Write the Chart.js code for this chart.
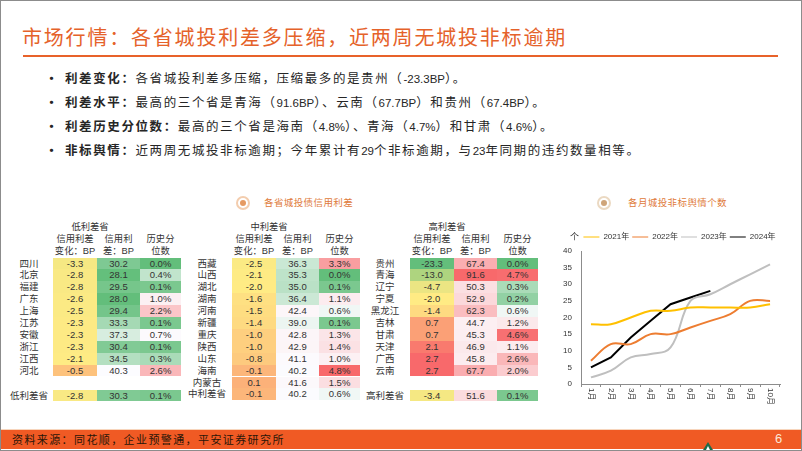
<!DOCTYPE html>
<html>
<head>
<meta charset="utf-8">
<script src="https://cdn.jsdelivr.net/npm/chart.js@4.4.1/dist/chart.umd.min.js"></script>
<style>
body { margin:0; width:802px; height:451px; position:relative; overflow:hidden; background:#fff;
  font-family:"Noto Sans CJK SC", sans-serif; color:#262626; }
.abs { position:absolute; }
#frame { left:0; top:0; width:802px; height:451px; border:1px solid #8c8c8c; box-sizing:border-box; }
#title { left:22px; top:24px; font-size:20px; line-height:26px; color:#E5622A; letter-spacing:1.8px; white-space:nowrap; }
#rule { left:23px; top:55px; width:755px; height:2px; background:#E8622A; }
.bl { left:0; height:16px; width:800px; }
.bl .dot { position:absolute; left:45px; top:0; font-size:13px; font-weight:700; line-height:16px; }
.bl .tx { position:absolute; left:65px; top:0; font-size:12.5px; line-height:16px; letter-spacing:1.6px; white-space:nowrap; }
.bl b { font-weight:700; }
.n { font-family:"Liberation Sans", sans-serif; font-size:11.5px; letter-spacing:0; }
.sec { font-size:9.5px; line-height:12px; letter-spacing:0.4px; color:#E07A3A; white-space:nowrap; }
.ring { width:10px; height:10px; border-radius:50%; border:2px solid; background:#fff; }
.ring i { position:absolute; left:2px; top:2px; width:6px; height:6px; border-radius:50%; }
.cell { position:absolute; height:11.9px; line-height:11.9px; text-align:center; font-family:"Liberation Sans","Noto Sans CJK SC",sans-serif; font-size:9.5px; color:#333; }
.lab { position:absolute; height:11.9px; line-height:11.9px; text-align:center; font-family:"Liberation Sans","Noto Sans CJK SC",sans-serif; font-size:9.5px; color:#333; white-space:nowrap; }
.hd { position:absolute; text-align:center; font-family:"Liberation Sans","Noto Sans CJK SC",sans-serif; font-size:9.3px; line-height:12px; color:#333; white-space:nowrap; }
#foot { left:1px; top:429px; width:800px; height:19px; background:#F05A24; border-top:1px solid #F7D5BC; }
#src { left:12px; top:429px; font-size:11px; line-height:20px; letter-spacing:1.4px; color:#2a1608; white-space:nowrap; }
#page { left:775px; top:429px; font-size:13px; line-height:20px; color:#FDE6D6; font-family:"Liberation Sans",sans-serif; }
#logo { left:703px; top:442px; width:0; height:0; border-left:5px solid transparent; border-right:5px solid transparent; border-bottom:8px solid #1d6b4a; }
#logo2 { left:706px; top:446px; width:0; height:0; border-left:2px solid transparent; border-right:2px solid transparent; border-bottom:4px solid #fff; }
#chartBox { left:555px; top:230px; width:235px; height:179px; }
</style>
</head>
<body>
<div id="frame" class="abs"></div>
<div id="title" class="abs">市场行情：各省城投利差多压缩，近两周无城投非标逾期</div>
<div id="rule" class="abs"></div>

<div class="abs bl" style="top:70px"><span class="dot">•</span><span class="tx"><b>利差变化：</b>各省城投利差多压缩，压缩最多的是贵州（<span class="n">-23.3BP</span>）。</span></div>
<div class="abs bl" style="top:94px"><span class="dot">•</span><span class="tx"><b>利差水平：</b>最高的三个省是青海（<span class="n">91.6BP</span>）、云南（<span class="n">67.7BP</span>）和贵州（<span class="n">67.4BP</span>）。</span></div>
<div class="abs bl" style="top:118px"><span class="dot">•</span><span class="tx"><b>利差历史分位数：</b>最高的三个省是海南（<span class="n">4.8%</span>）、青海（<span class="n">4.7%</span>）和甘肃（<span class="n">4.6%</span>）。</span></div>
<div class="abs bl" style="top:142px"><span class="dot">•</span><span class="tx"><b>非标舆情：</b>近两周无城投非标逾期；今年累计有<span class="n">29</span>个非标逾期，与<span class="n">23</span>年同期的违约数量相等。</span></div>

<div class="abs ring" style="left:236px;top:196px;border-color:#F3CDAE"><i style="background:#E59A62"></i></div>
<div class="abs sec" style="left:264px;top:196px">各省城投债信用利差</div>
<div class="abs ring" style="left:597px;top:196px;border-color:#EBD9C2"><i style="background:#CFA57A"></i></div>
<div class="abs sec" style="left:628px;top:196px">各月城投非标舆情个数</div>

<div id="tables"></div>

<div id="chartBox" class="abs"><canvas id="c" width="235" height="179"></canvas></div>

<div id="foot" class="abs"></div>
<div id="src" class="abs">资料来源：同花顺，企业预警通，平安证券研究所</div>
<div id="page" class="abs">6</div>
<div id="logo" class="abs"></div>
<div id="logo2" class="abs"></div>

<script>
// 低利差省
const lowNames = ['四川', '北京', '福建', '广东', '上海', '江苏', '安徽', '浙江', '江西', '河北'];
const lowChange = [-3.3, -2.8, -2.8, -2.6, -2.5, -2.3, -2.3, -2.3, -2.1, -0.5];
const lowSpread = [30.2, 28.1, 29.5, 28.0, 29.4, 33.3, 37.3, 30.4, 34.5, 40.3];
const lowPct = [0.0, 0.4, 0.1, 1.0, 2.2, 0.1, 0.7, 0.1, 0.3, 2.6];
const lowAvg = [-2.8, 30.3, 0.1];

// 中利差省
const midNames = ['西藏', '山西', '湖北', '湖南', '河南', '新疆', '重庆', '陕西', '山东', '海南', '内蒙古'];
const midChange = [-2.5, -2.1, -2.0, -1.6, -1.5, -1.4, -1.0, -1.0, -0.8, -0.1, 0.1];
const midSpread = [36.3, 35.3, 35.0, 36.4, 42.4, 39.0, 42.8, 42.9, 41.1, 40.2, 41.6];
const midPct = [3.3, 0.0, 0.1, 1.1, 0.6, 0.1, 1.3, 1.4, 1.0, 4.8, 1.5];
const midAvg = [-0.1, 40.2, 0.6];

// 高利差省
const highNames = ['贵州', '青海', '辽宁', '宁夏', '黑龙江', '吉林', '甘肃', '天津', '广西', '云南'];
const highChange = [-23.3, -13.0, -4.7, -2.0, -1.4, 0.7, 0.7, 2.1, 2.7, 2.7];
const highSpread = [67.4, 91.6, 50.3, 52.9, 62.3, 44.7, 45.3, 46.9, 45.8, 67.7];
const highPct = [0.0, 4.7, 0.3, 0.2, 0.6, 1.2, 4.6, 1.1, 2.6, 2.0];
const highAvg = [-3.4, 51.6, 0.1];

// 各月城投非标舆情个数
const months = ['1月', '2月', '3月', '4月', '5月', '6月', '7月', '8月', '9月', '10月'];
const years = ['2021年', '2022年', '2023年', '2024年'];
const y2021 = [18, 18, 20, 22, 22, 23, 23, 23, 23, 24];
const y2022 = [7, 12, 12, 15, 15, 17, 19, 21, 25, 25];
const y2023 = [2, 4, 8, 9, 11, 25, 27, 30, 33, 36];
const y2024 = [5, 8, 14, 19, 24, 26, 28];

const GREEN = [99, 190, 123], YELLOW = [255, 235, 132], WHITE = [252, 252, 255], RED = [248, 105, 107];

function mix(a, b, t) {
    return 'rgb(' + a.map((v, i) => Math.round(v + (b[i] - v) * t)).join(',') + ')';
}
function scale3(v, lo, mid, hi, cLo, cMid, cHi) {
    if (v <= mid) return mix(cMid, cLo, Math.min(1, (mid - v) / (mid - lo)));
    return mix(cMid, cHi, Math.min(1, (v - mid) / (hi - mid)));
}
const allChange = lowChange.concat(midChange, highChange);
const allSpread = lowSpread.concat(midSpread, highSpread);
const allPct = lowPct.concat(midPct, highPct);
const colChange = v => scale3(v, Math.min(...allChange), -2.0, Math.max(...allChange), GREEN, YELLOW, RED);
const colSpread = v => scale3(v, Math.min(...allSpread), 40.3, Math.max(...allSpread), GREEN, WHITE, RED);
const colPct = v => scale3(v, Math.min(...allPct), 0.65, Math.max(...allPct), GREEN, WHITE, RED);

const host = document.getElementById('tables');
const ROW0 = 257.5, ROWH = 11.9;
const colW = [44, 43, 41];

function addDiv(cls, left, top, width, html, bg) {
    const d = document.createElement('div');
    d.className = cls;
    d.style.left = left + 'px';
    d.style.top = top + 'px';
    if (width) d.style.width = width + 'px';
    if (bg) d.style.background = bg;
    d.innerHTML = html;
    host.appendChild(d);
}

function addRow(x0, labelX, top, name, c, s, p) {
    addDiv('lab', labelX - 25, top, 50, name);
    addDiv('cell', x0, top, colW[0], c.toFixed(1), colChange(c));
    addDiv('cell', x0 + colW[0], top, colW[1], s.toFixed(1), colSpread(s));
    addDiv('cell', x0 + colW[0] + colW[1], top, colW[2], p.toFixed(1) + '%', colPct(p));
}

function drawTable(x0, labelX, group, names, change, spread, pct, avgName, avg, avgTop) {
    addDiv('hd', x0 - 10, 221, 94, group);
    addDiv('hd', x0 - 6, 233, colW[0] + 12, '信用利差<br>变化：BP');
    addDiv('hd', x0 + colW[0] - 6, 233, colW[1] + 12, '信用利<br>差：BP');
    addDiv('hd', x0 + colW[0] + colW[1] - 6, 233, colW[2] + 12, '历史分<br>位数');
    names.forEach((n, i) => addRow(x0, labelX, ROW0 + i * ROWH, n, change[i], spread[i], pct[i]));
    addRow(x0, labelX, avgTop, avgName, avg[0], avg[1], avg[2]);
}

drawTable(53, 29, '低利差省', lowNames, lowChange, lowSpread, lowPct, '低利差省', lowAvg, 389.5);
drawTable(232, 207, '中利差省', midNames, midChange, midSpread, midPct, '中利差省', midAvg, ROW0 + 11 * ROWH);
drawTable(410, 385, '高利差省', highNames, highChange, highSpread, highPct, '高利差省', highAvg, 389.5);

const FONT = '"Liberation Sans", "Noto Sans CJK SC", sans-serif';

const axisText = {
    id: 'axisText',
    afterLayout(chart) {
        chart.legend.left += 12;
        chart.legend.right += 12;
    },
    afterDraw(chart) {
        const {ctx, chartArea, scales} = chart;
        ctx.save();
        ctx.fillStyle = '#333';
        ctx.font = '8px ' + FONT;
        months.forEach((m, i) => {
            const px = scales.x.getPixelForValue(i);
            ctx.save();
            ctx.translate(px, chartArea.bottom + 4);
            ctx.rotate(Math.PI / 2);
            ctx.textAlign = 'left';
            ctx.textBaseline = 'middle';
            ctx.fillText(m, 0, 0);
            ctx.restore();
        });
        ctx.textAlign = 'right';
        ctx.textBaseline = 'middle';
        ctx.font = '9px ' + FONT;
        ctx.fillText('个', chartArea.left - 2, chart.legend.top + 8);
        ctx.restore();
    }
};

new Chart(document.getElementById('c'), {
    type: 'line',
    data: {
        labels: months,
        datasets: [
            {label: years[0], data: y2021, borderColor: '#FFC000', backgroundColor: '#FFC000', tension: 0.4},
            {label: years[1], data: y2022, borderColor: '#ED7D31', backgroundColor: '#ED7D31', tension: 0.4},
            {label: years[2], data: y2023, borderColor: '#BFBFBF', backgroundColor: '#BFBFBF', tension: 0.4},
            {label: years[3], data: y2024, borderColor: '#000000', backgroundColor: '#000000', tension: 0}
        ]
    },
    options: {
        responsive: false,
        animation: false,
        devicePixelRatio: 1,
        layout: {padding: {left: 0, right: 10, top: 0, bottom: 22}},
        elements: {point: {radius: 0}, line: {borderWidth: 2}},
        plugins: {
            legend: {
                position: 'top',
                labels: {
                    usePointStyle: true, pointStyle: 'line', pointStyleWidth: 16,
                    font: {size: 8, family: FONT}, color: '#333', padding: 3
                }
            },
            tooltip: {enabled: false}
        },
        scales: {
            x: {
                offset: true,
                grid: {offset: true, drawOnChartArea: false, drawTicks: true, tickLength: 3, color: '#8c8c8c'},
                border: {color: '#8c8c8c'},
                ticks: {display: false}
            },
            y: {
                min: 0, max: 40,
                ticks: {stepSize: 5, font: {size: 8, family: FONT}, color: '#333', padding: 9},
                grid: {drawOnChartArea: false, drawTicks: false},
                border: {color: '#8c8c8c'},
                afterFit(scale) { scale.width = 26; }
            }
        }
    },
    plugins: [axisText]
});
</script>
</body>
</html>
